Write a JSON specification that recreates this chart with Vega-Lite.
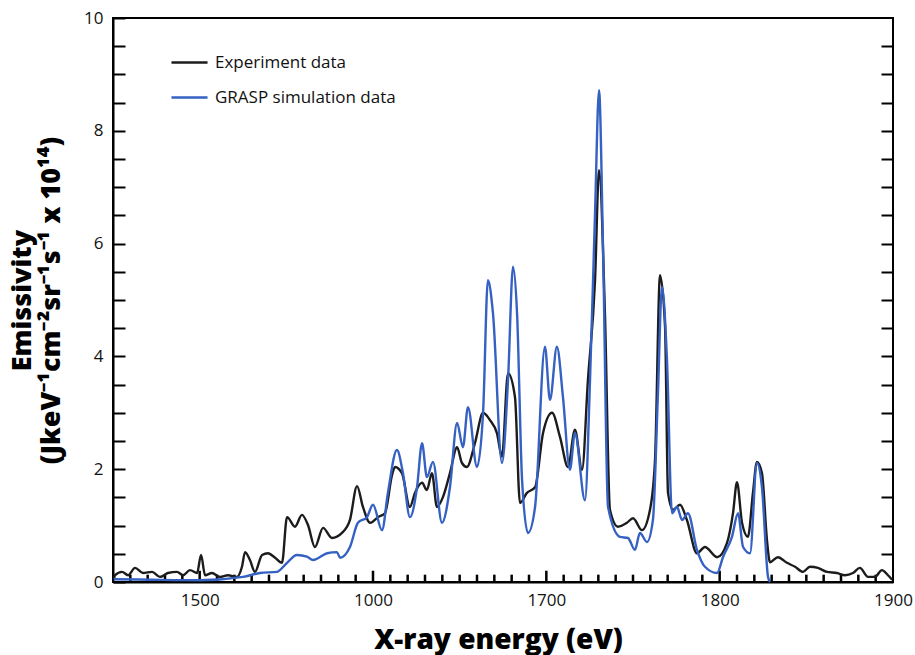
{
  "$schema": "https://vega.github.io/schema/vega-lite/v6.json",
  "width": 780,
  "height": 564,
  "autosize": {"type": "none"},
  "padding": {"left": 113, "top": 18, "right": 22, "bottom": 73},
  "background": "white",
  "config": {"font": "Open Sans", "view": {"stroke": "#000", "strokeWidth": 2}},
  "datasets": {
    "exp": [
      {"energy": 1450.5, "emissivity": 0.05},
      {"energy": 1451.2, "emissivity": 0.12},
      {"energy": 1455.2, "emissivity": 0.18},
      {"energy": 1458.7, "emissivity": 0.12},
      {"energy": 1462.7, "emissivity": 0.25},
      {"energy": 1467.3, "emissivity": 0.16},
      {"energy": 1472.5, "emissivity": 0.18},
      {"energy": 1477.1, "emissivity": 0.09},
      {"energy": 1481.7, "emissivity": 0.16},
      {"energy": 1486.9, "emissivity": 0.18},
      {"energy": 1490.4, "emissivity": 0.12},
      {"energy": 1494.4, "emissivity": 0.21},
      {"energy": 1498.5, "emissivity": 0.16},
      {"energy": 1500.8, "emissivity": 0.48},
      {"energy": 1503.1, "emissivity": 0.12},
      {"energy": 1507.1, "emissivity": 0.16},
      {"energy": 1511.7, "emissivity": 0.09},
      {"energy": 1516.3, "emissivity": 0.12},
      {"energy": 1521.5, "emissivity": 0.09},
      {"energy": 1524.4, "emissivity": 0.27},
      {"energy": 1526.2, "emissivity": 0.53},
      {"energy": 1529.0, "emissivity": 0.39},
      {"energy": 1531.9, "emissivity": 0.18},
      {"energy": 1536.0, "emissivity": 0.48},
      {"energy": 1539.4, "emissivity": 0.51},
      {"energy": 1543.5, "emissivity": 0.43},
      {"energy": 1547.5, "emissivity": 0.34},
      {"energy": 1550.4, "emissivity": 1.15},
      {"energy": 1555.0, "emissivity": 0.98},
      {"energy": 1559.0, "emissivity": 1.19},
      {"energy": 1562.5, "emissivity": 1.01},
      {"energy": 1566.5, "emissivity": 0.62},
      {"energy": 1571.2, "emissivity": 0.96},
      {"energy": 1576.3, "emissivity": 0.78},
      {"energy": 1582.1, "emissivity": 0.87},
      {"energy": 1586.7, "emissivity": 1.1},
      {"energy": 1590.8, "emissivity": 1.7},
      {"energy": 1594.2, "emissivity": 1.33},
      {"energy": 1598.3, "emissivity": 1.05},
      {"energy": 1602.9, "emissivity": 1.15},
      {"energy": 1606.9, "emissivity": 1.22},
      {"energy": 1611.0, "emissivity": 1.9},
      {"energy": 1612.7, "emissivity": 2.04},
      {"energy": 1616.7, "emissivity": 1.93},
      {"energy": 1621.3, "emissivity": 1.33},
      {"energy": 1624.2, "emissivity": 1.58},
      {"energy": 1628.3, "emissivity": 1.76},
      {"energy": 1631.1, "emissivity": 1.63},
      {"energy": 1634.0, "emissivity": 1.93},
      {"energy": 1636.9, "emissivity": 1.33},
      {"energy": 1640.4, "emissivity": 1.51},
      {"energy": 1644.4, "emissivity": 1.93},
      {"energy": 1648.5, "emissivity": 2.39},
      {"energy": 1651.3, "emissivity": 2.11},
      {"energy": 1654.2, "emissivity": 2.04},
      {"energy": 1658.8, "emissivity": 2.46},
      {"energy": 1663.5, "emissivity": 3.0},
      {"energy": 1667.5, "emissivity": 2.87},
      {"energy": 1671.5, "emissivity": 2.64},
      {"energy": 1674.4, "emissivity": 2.22},
      {"energy": 1677.9, "emissivity": 3.7},
      {"energy": 1681.9, "emissivity": 3.28},
      {"energy": 1684.8, "emissivity": 1.4},
      {"energy": 1688.8, "emissivity": 1.58},
      {"energy": 1693.5, "emissivity": 1.68},
      {"energy": 1698.1, "emissivity": 2.64},
      {"energy": 1703.3, "emissivity": 3.0},
      {"energy": 1707.9, "emissivity": 2.57},
      {"energy": 1712.5, "emissivity": 2.04},
      {"energy": 1716.5, "emissivity": 2.7},
      {"energy": 1720.6, "emissivity": 1.99},
      {"energy": 1724.0, "emissivity": 3.58},
      {"energy": 1728.1, "emissivity": 5.35},
      {"energy": 1730.4, "emissivity": 7.3},
      {"energy": 1733.8, "emissivity": 4.77},
      {"energy": 1736.7, "emissivity": 1.28},
      {"energy": 1741.3, "emissivity": 0.98},
      {"energy": 1746.5, "emissivity": 1.05},
      {"energy": 1750.0, "emissivity": 1.13},
      {"energy": 1755.2, "emissivity": 0.92},
      {"energy": 1759.8, "emissivity": 1.28},
      {"energy": 1762.7, "emissivity": 2.16},
      {"energy": 1765.6, "emissivity": 5.44},
      {"energy": 1768.5, "emissivity": 4.52},
      {"energy": 1770.2, "emissivity": 1.58},
      {"energy": 1773.1, "emissivity": 1.28},
      {"energy": 1777.1, "emissivity": 1.37},
      {"energy": 1781.1, "emissivity": 1.1},
      {"energy": 1786.9, "emissivity": 0.51},
      {"energy": 1791.5, "emissivity": 0.62},
      {"energy": 1798.5, "emissivity": 0.44},
      {"energy": 1804.2, "emissivity": 0.69},
      {"energy": 1807.7, "emissivity": 1.22},
      {"energy": 1810.0, "emissivity": 1.77},
      {"energy": 1812.9, "emissivity": 1.05},
      {"energy": 1816.3, "emissivity": 0.8},
      {"energy": 1819.2, "emissivity": 1.58},
      {"energy": 1821.5, "emissivity": 2.13},
      {"energy": 1824.4, "emissivity": 1.93},
      {"energy": 1827.3, "emissivity": 0.74},
      {"energy": 1829.0, "emissivity": 0.35},
      {"energy": 1833.6, "emissivity": 0.44},
      {"energy": 1838.8, "emissivity": 0.34},
      {"energy": 1843.5, "emissivity": 0.27},
      {"energy": 1848.1, "emissivity": 0.18},
      {"energy": 1852.1, "emissivity": 0.27},
      {"energy": 1856.7, "emissivity": 0.25},
      {"energy": 1861.9, "emissivity": 0.18},
      {"energy": 1867.7, "emissivity": 0.16},
      {"energy": 1872.3, "emissivity": 0.12},
      {"energy": 1876.9, "emissivity": 0.16},
      {"energy": 1880.9, "emissivity": 0.25},
      {"energy": 1885.6, "emissivity": 0.09},
      {"energy": 1889.6, "emissivity": 0.09},
      {"energy": 1893.6, "emissivity": 0.21},
      {"energy": 1897.1, "emissivity": 0.12},
      {"energy": 1899.5, "emissivity": 0.04}
    ],
    "sim": [
      {"energy": 1450.5, "emissivity": 0.05},
      {"energy": 1471.3, "emissivity": 0.04},
      {"energy": 1500.2, "emissivity": 0.03},
      {"energy": 1525.0, "emissivity": 0.09},
      {"energy": 1534.8, "emissivity": 0.16},
      {"energy": 1544.6, "emissivity": 0.18},
      {"energy": 1550.4, "emissivity": 0.34},
      {"energy": 1556.1, "emissivity": 0.48},
      {"energy": 1561.9, "emissivity": 0.45},
      {"energy": 1565.4, "emissivity": 0.39},
      {"energy": 1573.5, "emissivity": 0.51},
      {"energy": 1579.2, "emissivity": 0.53},
      {"energy": 1581.0, "emissivity": 0.43},
      {"energy": 1586.7, "emissivity": 0.62},
      {"energy": 1591.3, "emissivity": 1.05},
      {"energy": 1596.5, "emissivity": 1.15},
      {"energy": 1600.0, "emissivity": 1.37},
      {"energy": 1605.2, "emissivity": 0.92},
      {"energy": 1608.6, "emissivity": 1.58},
      {"energy": 1613.8, "emissivity": 2.34},
      {"energy": 1617.3, "emissivity": 1.93},
      {"energy": 1621.3, "emissivity": 1.15},
      {"energy": 1625.4, "emissivity": 1.68},
      {"energy": 1628.3, "emissivity": 2.46},
      {"energy": 1631.1, "emissivity": 1.86},
      {"energy": 1634.6, "emissivity": 2.13},
      {"energy": 1639.8, "emissivity": 1.05},
      {"energy": 1644.4, "emissivity": 1.68},
      {"energy": 1648.5, "emissivity": 2.82},
      {"energy": 1651.9, "emissivity": 2.39},
      {"energy": 1654.8, "emissivity": 3.1},
      {"energy": 1660.0, "emissivity": 2.04},
      {"energy": 1663.5, "emissivity": 3.0},
      {"energy": 1666.3, "emissivity": 5.35},
      {"energy": 1669.2, "emissivity": 4.77},
      {"energy": 1674.4, "emissivity": 2.11},
      {"energy": 1677.9, "emissivity": 3.58},
      {"energy": 1680.8, "emissivity": 5.59},
      {"energy": 1683.1, "emissivity": 4.77},
      {"energy": 1686.0, "emissivity": 1.81},
      {"energy": 1689.4, "emissivity": 0.87},
      {"energy": 1693.5, "emissivity": 1.33},
      {"energy": 1699.2, "emissivity": 4.17},
      {"energy": 1702.1, "emissivity": 3.23},
      {"energy": 1706.1, "emissivity": 4.17},
      {"energy": 1709.6, "emissivity": 3.28},
      {"energy": 1713.6, "emissivity": 1.99},
      {"energy": 1716.5, "emissivity": 2.64},
      {"energy": 1722.3, "emissivity": 1.45},
      {"energy": 1725.2, "emissivity": 3.58},
      {"energy": 1728.1, "emissivity": 6.54},
      {"energy": 1730.4, "emissivity": 8.72},
      {"energy": 1732.7, "emissivity": 5.94},
      {"energy": 1735.6, "emissivity": 1.33},
      {"energy": 1742.5, "emissivity": 0.8},
      {"energy": 1747.1, "emissivity": 0.78},
      {"energy": 1751.1, "emissivity": 0.57},
      {"energy": 1754.0, "emissivity": 0.87},
      {"energy": 1758.1, "emissivity": 0.71},
      {"energy": 1761.5, "emissivity": 1.1},
      {"energy": 1764.4, "emissivity": 3.35},
      {"energy": 1766.7, "emissivity": 5.23},
      {"energy": 1769.6, "emissivity": 3.94},
      {"energy": 1772.5, "emissivity": 1.22},
      {"energy": 1775.4, "emissivity": 1.33},
      {"energy": 1778.3, "emissivity": 1.1},
      {"energy": 1781.7, "emissivity": 1.22},
      {"energy": 1786.9, "emissivity": 0.57},
      {"energy": 1791.5, "emissivity": 0.27},
      {"energy": 1798.5, "emissivity": 0.16},
      {"energy": 1801.9, "emissivity": 0.44},
      {"energy": 1807.1, "emissivity": 0.8},
      {"energy": 1810.6, "emissivity": 1.22},
      {"energy": 1813.5, "emissivity": 0.62},
      {"energy": 1817.5, "emissivity": 0.51},
      {"energy": 1821.5, "emissivity": 2.11},
      {"energy": 1824.4, "emissivity": 1.68},
      {"energy": 1827.9, "emissivity": 0.09},
      {"energy": 1829.0, "emissivity": 0.0}
    ],
    "majorTicks": [
      {"energy": 1500}, {"energy": 1600}, {"energy": 1700}, {"energy": 1800}
    ],
    "minorTicks": [
      {"energy": 1460}, {"energy": 1470}, {"energy": 1480}, {"energy": 1490},
      {"energy": 1510}, {"energy": 1520}, {"energy": 1530}, {"energy": 1540}, {"energy": 1550}, {"energy": 1560}, {"energy": 1570}, {"energy": 1580}, {"energy": 1590},
      {"energy": 1610}, {"energy": 1620}, {"energy": 1630}, {"energy": 1640}, {"energy": 1650}, {"energy": 1660}, {"energy": 1670}, {"energy": 1680}, {"energy": 1690},
      {"energy": 1710}, {"energy": 1720}, {"energy": 1730}, {"energy": 1740}, {"energy": 1750}, {"energy": 1760}, {"energy": 1770}, {"energy": 1780}, {"energy": 1790},
      {"energy": 1810}, {"energy": 1820}, {"energy": 1830}, {"energy": 1840}, {"energy": 1850}, {"energy": 1860}, {"energy": 1870}, {"energy": 1880}, {"energy": 1890}
    ]
  },
  "layer": [
    {
      "data": {"name": "majorTicks"},
      "mark": {"type": "rule", "stroke": "#000", "strokeWidth": 2.5},
      "encoding": {
        "x": {
          "field": "energy", "type": "quantitative",
          "scale": {"domain": [1450, 1900], "nice": false, "zero": false},
          "axis": {
            "orient": "bottom",
            "values": [1500, 1600, 1700, 1800, 1900],
            "labelExpr": "datum.value == 1600 ? '1000' : datum.label",
            "format": "d",
            "grid": false, "ticks": false,
            "domainColor": "#000", "domainWidth": 2,
            "labelFontSize": 17, "labelColor": "#111", "labelPadding": 10, "labelFlush": false,
            "title": "X-ray energy (eV)", "titleFontSize": 28, "titleFontWeight": 800, "titleColor": "#000",
            "titleX": 385, "titleY": 66, "titleBaseline": "alphabetic", "titleAlign": "center"
          }
        },
        "y": {
          "datum": 0, "type": "quantitative",
          "scale": {"domain": [0, 10], "nice": false},
          "axis": {
            "orient": "left",
            "values": [0, 0.5, 1, 1.5, 2, 2.5, 3, 3.5, 4, 4.5, 5, 5.5, 6, 6.5, 7, 7.5, 8, 8.5, 9, 9.5, 10],
            "labelExpr": "datum.value % 2 === 0 ? format(datum.value, 'd') : ''",
            "grid": false, "tickSize": -12, "tickWidth": 2, "tickColor": "#000",
            "domainColor": "#000", "domainWidth": 2,
            "labelFontSize": 17, "labelColor": "#111", "labelPadding": 22, "labelFlush": false,
            "title": ["Emissivity", "(JkeV⁻¹cm⁻²sr⁻¹s⁻¹ x 10¹⁴)"],
            "titleFontSize": 27, "titleFontWeight": 800, "titleColor": "#000",
            "titleX": -83, "titleY": 282, "titleAngle": -90, "titleBaseline": "alphabetic", "titleAlign": "center", "titleLineHeight": 29
          }
        },
        "y2": {"datum": 0.2}
      }
    },
    {
      "data": {"name": "minorTicks"},
      "mark": {"type": "rule", "stroke": "#000", "strokeWidth": 2.5},
      "encoding": {
        "x": {"field": "energy", "type": "quantitative", "axis": null},
        "y": {
          "datum": 0, "type": "quantitative",
          "axis": {
            "orient": "right",
            "values": [0.5, 1, 1.5, 2, 2.5, 3, 3.5, 4, 4.5, 5, 5.5, 6, 6.5, 7, 7.5, 8, 8.5, 9, 9.5],
            "grid": false, "labels": false, "domain": false, "title": null,
            "tickSize": -12, "tickWidth": 2, "tickColor": "#000"
          }
        },
        "y2": {"datum": 0.13}
      }
    },
    {
      "data": {"name": "exp"},
      "transform": [{"calculate": "'Experiment data'", "as": "series"}],
      "mark": {"type": "line", "strokeWidth": 2.4, "interpolate": "monotone"},
      "encoding": {
        "x": {"field": "energy", "type": "quantitative", "axis": null},
        "y": {"field": "emissivity", "type": "quantitative", "axis": null},
        "color": {
          "field": "series", "type": "nominal",
          "scale": {"domain": ["Experiment data", "GRASP simulation data"], "range": ["#1c1c1c", "#3561c3"]},
          "legend": {
            "orient": "none", "legendX": 57, "legendY": 25, "title": null,
            "symbolType": "stroke", "symbolSize": 1300, "symbolStrokeWidth": 2.5,
            "labelFontSize": 17, "labelColor": "#111", "labelOffset": 6, "labelLimit": 400, "rowPadding": 7, "padding": 0
          }
        }
      }
    },
    {
      "data": {"name": "sim"},
      "transform": [{"calculate": "'GRASP simulation data'", "as": "series"}],
      "mark": {"type": "line", "strokeWidth": 2.4, "interpolate": "monotone"},
      "encoding": {
        "x": {"field": "energy", "type": "quantitative", "axis": null},
        "y": {"field": "emissivity", "type": "quantitative", "axis": null},
        "color": {"field": "series", "type": "nominal"}
      }
    }
  ],
  "resolve": {"axis": {"x": "independent", "y": "independent"}}
}
